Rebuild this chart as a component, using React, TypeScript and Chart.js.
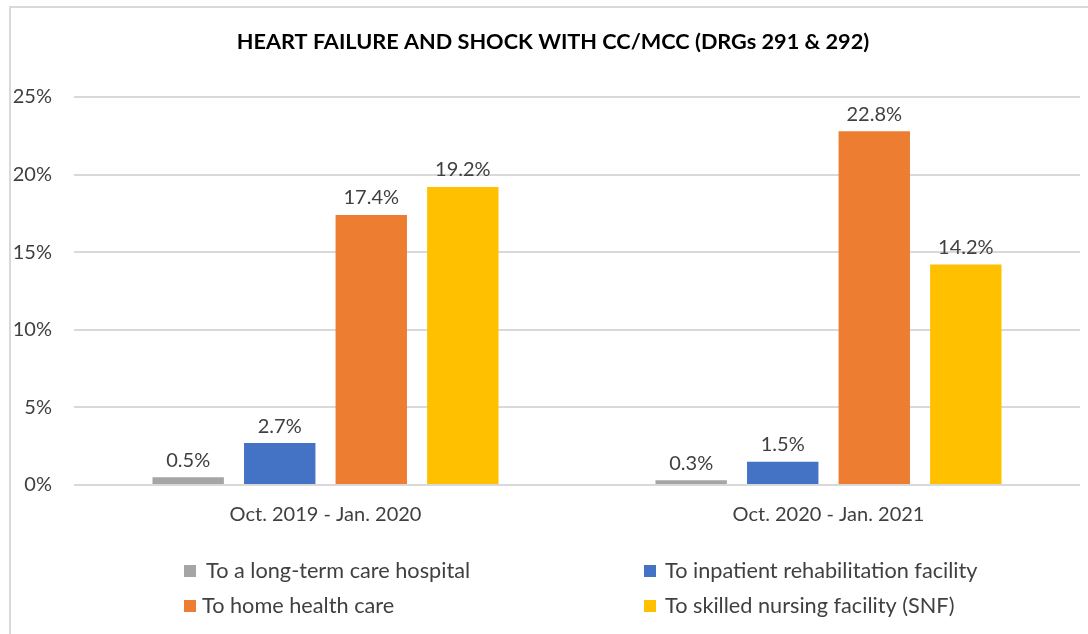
import React, { useEffect, useRef } from "react";
import { Chart, registerables } from "chart.js";

Chart.register(...registerables);

const title = "HEART FAILURE AND SHOCK WITH CC/MCC (DRGs 291 & 292)";
const categories = ["Oct. 2019 - Jan. 2020", "Oct. 2020 - Jan. 2021"];
const seriesNames = [
  "To a long-term care hospital",
  "To inpatient rehabilitation facility",
  "To home health care",
  "To skilled nursing facility (SNF)",
];
const longTermCare = [0.5, 0.3];
const inpatientRehab = [2.7, 1.5];
const homeHealth = [17.4, 22.8];
const skilledNursing = [19.2, 14.2];
const seriesColors = ["#A5A5A5", "#4472C4", "#ED7D31", "#FFC000"];
const yTicks = [0, 5, 10, 15, 20, 25];

const FONT = "Lato, 'Open Sans', sans-serif";
const TEXT = "#404040";

const framePlugin = {
  id: "frame",
  beforeDraw(chart: any) {
    const ctx = chart.ctx;
    ctx.save();
    ctx.fillStyle = "#ffffff";
    ctx.fillRect(0, 0, chart.width, chart.height);
    ctx.strokeStyle = "#d9d9d9";
    ctx.lineWidth = 2;
    ctx.beginPath();
    ctx.moveTo(10, chart.height);
    ctx.lineTo(10, 7);
    ctx.lineTo(chart.width, 7);
    ctx.stroke();
    ctx.restore();
  },
  afterDraw(chart: any) {
    const ctx = chart.ctx;
    ctx.save();
    // title
    ctx.fillStyle = "#000000";
    ctx.font = `bold 21.7px ${FONT}`;
    ctx.textAlign = "center";
    ctx.textBaseline = "middle";
    ctx.fillText(title, 553, 42);
    // data labels
    ctx.font = `20px ${FONT}`;
    ctx.fillStyle = TEXT;
    ctx.textBaseline = "bottom";
    chart.data.datasets.forEach((ds: any, i: number) => {
      const meta = chart.getDatasetMeta(i);
      meta.data.forEach((bar: any, j: number) => {
        ctx.fillText(ds.data[j].toFixed(1) + "%", bar.x, bar.y - 7);
      });
    });
    // legend
    const rows = [571, 606];
    const cols = [{ box: 184, text: 206 }, { box: 644, text: 665 }];
    ctx.textAlign = "left";
    ctx.textBaseline = "middle";
    ctx.font = `21.7px ${FONT}`;
    chart.data.datasets.forEach((ds: any, i: number) => {
      const r = Math.floor(i / 2);
      const c = i % 2;
      const y = rows[r];
      ctx.fillStyle = ds.backgroundColor;
      ctx.fillRect(cols[c].box, y - 6, 12, 12);
      ctx.fillStyle = TEXT;
      const tx = i === 2 ? 202 : cols[c].text;
      ctx.fillText(ds.label, tx, y);
    });
    ctx.restore();
  },
};

export default function App() {
  const canvasRef = useRef<HTMLCanvasElement | null>(null);

  useEffect(() => {
    document.body.style.margin = "0";
    const canvas = canvasRef.current;
    if (!canvas) return;
    const seriesData = [longTermCare, inpatientRehab, homeHealth, skilledNursing];
    const chart = new Chart(canvas, {
      type: "bar",
      data: {
        labels: categories,
        datasets: seriesNames.map((name, i) => ({
          label: name,
          data: seriesData[i],
          backgroundColor: seriesColors[i],
          borderWidth: 0,
          categoryPercentage: 0.728,
          barPercentage: 0.78,
        })),
      },
      options: {
        responsive: false,
        animation: false,
        layout: { padding: { top: 97, right: 8, left: 0, bottom: 0 } },
        plugins: {
          legend: { display: false },
          title: { display: false },
          tooltip: { enabled: false },
        },
        scales: {
          x: {
            grid: { display: false, drawTicks: false },
            border: { display: false },
            ticks: { color: TEXT, font: { family: FONT, size: 20 }, padding: 18 },
            afterFit: (scale: any) => {
              scale.height = 634 - 485;
            },
          },
          y: {
            min: 0,
            max: 25,
            afterBuildTicks: (scale: any) => {
              scale.ticks = yTicks.map((v) => ({ value: v }));
            },
            grid: { color: "#d9d9d9", lineWidth: 2, drawTicks: false },
            border: { display: false },
            ticks: {
              color: TEXT,
              font: { family: FONT, size: 20 },
              padding: 22,
              callback: (v: any) => v + "%",
            },
            afterFit: (scale: any) => {
              scale.width = 74;
            },
          },
        },
      },
      plugins: [framePlugin],
    });
    return () => chart.destroy();
  }, []);

  return (
    <div style={{ width: 1088, height: 634 }}>
      <canvas ref={canvasRef} width={1088} height={634} />
    </div>
  );
}
